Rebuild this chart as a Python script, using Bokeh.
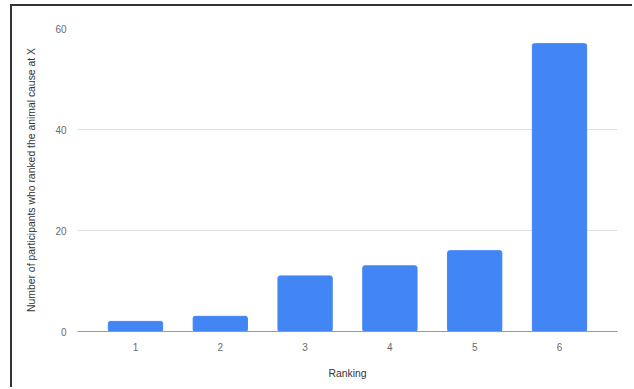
from bokeh.plotting import figure
from bokeh.models import Range1d, FixedTicker
from bokeh.embed import file_html
from bokeh.resources import INLINE

rankings = [1, 2, 3, 4, 5, 6]
counts = [2, 3, 11, 13, 16, 57]
y_ticks = [0, 20, 40, 60]
x_title = "Ranking"
y_title = "Number of participants who ranked the animal cause at X"

FONT = "Liberation Sans"

p = figure(width=622, height=383, output_backend="svg", toolbar_location=None,
           x_range=Range1d(0.316, 6.684), y_range=Range1d(0, 60),
           min_border_left=65, min_border_top=22, min_border_right=17, min_border_bottom=58,
           styles={"margin-left": "10px", "margin-top": "4px",
                   "border-top": "2px solid #333", "border-left": "2px solid #333"})
p.outline_line_color = None
p.background_fill_color = "white"
p.border_fill_color = "white"

p.vbar(x=rankings, top=counts, width=0.64, color="#4285F4", border_radius=2)

p.xgrid.grid_line_color = None
p.ygrid.grid_line_color = "#e0e0e0"
p.ygrid.grid_line_width = 1

p.xaxis.ticker = FixedTicker(ticks=rankings)
p.yaxis.ticker = FixedTicker(ticks=y_ticks)

for ax in (p.xaxis[0], p.yaxis[0]):
    ax.major_tick_line_color = None
    ax.minor_tick_line_color = None
    ax.major_label_text_font = FONT
    ax.major_label_text_font_size = "10px"
    ax.major_label_text_color = "#6b6b6b"
    ax.axis_label_text_font = FONT
    ax.axis_label_text_font_size = "10.4px"
    ax.axis_label_text_font_style = "normal"
    ax.axis_label_text_color = "#333333"
    ax.major_label_standoff = 5

p.xaxis.axis_line_color = "#999999"
p.xaxis.axis_line_width = 1
p.yaxis.axis_line_color = None
p.xaxis.axis_label = x_title
p.yaxis.axis_label = y_title
p.xaxis.axis_label_standoff = 14
p.yaxis.axis_label_standoff = 15

open("out.html", "w").write(file_html(p, INLINE))
